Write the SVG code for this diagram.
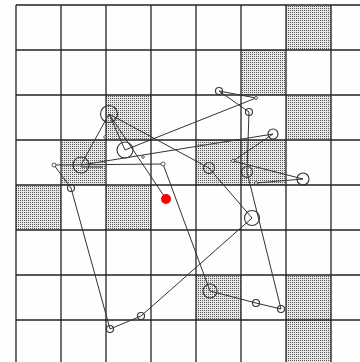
<svg xmlns="http://www.w3.org/2000/svg" width="360" height="362" viewBox="0 0 360 362">
<defs>
<pattern id="stip" width="2" height="2" patternUnits="userSpaceOnUse">
<rect width="2" height="2" fill="#e8e8e8"/>
<rect x="0" y="0" width="1" height="1" fill="#555"/>
</pattern>
</defs>
<style>
.cell{fill:url(#stip)}
.grid line{stroke:#222;stroke-width:1.3}
.edges line{stroke:#333;stroke-width:1}
.node circle{fill:none;stroke:#333;stroke-width:1.1}
.dot circle{fill:#fff;stroke:#333;stroke-width:0.8}
</style>
<rect width="360" height="362" fill="#fefefe"/>
<g id="shading">
<rect class="cell" x="286" y="5" width="45" height="45"/>
<rect class="cell" x="241" y="50" width="45" height="45"/>
<rect class="cell" x="106" y="95" width="45" height="45"/>
<rect class="cell" x="286" y="95" width="45" height="45"/>
<rect class="cell" x="61" y="140" width="45" height="45"/>
<rect class="cell" x="196" y="140" width="90" height="45"/>
<rect class="cell" x="16" y="185" width="45" height="45"/>
<rect class="cell" x="106" y="185" width="45" height="45"/>
<rect class="cell" x="196" y="275" width="45" height="45"/>
<rect class="cell" x="286" y="275" width="45" height="87"/>
</g>
<g class="grid">
<line x1="16" y1="5" x2="16" y2="362"/>
<line x1="61" y1="5" x2="61" y2="362"/>
<line x1="106" y1="5" x2="106" y2="362"/>
<line x1="151" y1="5" x2="151" y2="362"/>
<line x1="196" y1="5" x2="196" y2="362"/>
<line x1="241" y1="5" x2="241" y2="362"/>
<line x1="286" y1="5" x2="286" y2="362"/>
<line x1="331" y1="5" x2="331" y2="362"/>
<line x1="16" y1="5" x2="360" y2="5"/>
<line x1="16" y1="50" x2="360" y2="50"/>
<line x1="16" y1="95" x2="360" y2="95"/>
<line x1="16" y1="140" x2="360" y2="140"/>
<line x1="16" y1="185" x2="360" y2="185"/>
<line x1="16" y1="230" x2="360" y2="230"/>
<line x1="16" y1="275" x2="360" y2="275"/>
<line x1="16" y1="320" x2="360" y2="320"/>
</g>
<g id="connectors" class="edges">
<line x1="109" y1="114" x2="81" y2="165"/>
<line x1="109" y1="114" x2="125" y2="150"/>
<line x1="109" y1="114" x2="209" y2="168"/>
<line x1="109" y1="114" x2="166" y2="199"/>
<line x1="125" y1="150" x2="256" y2="98"/>
<line x1="219" y1="91" x2="256" y2="98"/>
<line x1="219" y1="91" x2="249" y2="112"/>
<line x1="81" y1="165" x2="273" y2="134"/>
<line x1="54" y1="165" x2="163" y2="164"/>
<line x1="81" y1="167" x2="103" y2="167"/>
<line x1="54" y1="165" x2="71" y2="188"/>
<line x1="71" y1="188" x2="110" y2="329"/>
<line x1="110" y1="329" x2="141" y2="316"/>
<line x1="141" y1="316" x2="252" y2="218"/>
<line x1="209" y1="168" x2="252" y2="218"/>
<line x1="249" y1="112" x2="247" y2="172"/>
<line x1="247" y1="172" x2="281" y2="309"/>
<line x1="281" y1="309" x2="256" y2="303"/>
<line x1="256" y1="303" x2="210" y2="291"/>
<line x1="163" y1="164" x2="210" y2="291"/>
<line x1="233" y1="161" x2="273" y2="134"/>
<line x1="233" y1="161" x2="303" y2="179"/>
<line x1="256" y1="183" x2="303" y2="179"/>
</g>
<g id="n1" class="node"><circle cx="109" cy="114" r="8.5"/></g>
<g id="n2" class="node"><circle cx="125" cy="150" r="8"/></g>
<g id="n3" class="node"><circle cx="81" cy="165" r="8"/></g>
<g id="n4" class="dot"><circle cx="54" cy="165" r="2"/></g>
<g id="n5" class="dot"><circle cx="163" cy="164" r="2"/></g>
<g id="n6" class="node"><circle cx="71" cy="188" r="3.5"/></g>
<g id="n7" class="node"><circle cx="110" cy="329" r="3.5"/></g>
<g id="n8" class="node"><circle cx="141" cy="316" r="3.5"/></g>
<g id="n9" class="node"><circle cx="210" cy="291" r="7"/></g>
<g id="n10" class="node"><circle cx="256" cy="303" r="3.5"/></g>
<g id="n11" class="node"><circle cx="281" cy="309" r="3.5"/></g>
<g id="n12" class="node"><circle cx="252" cy="218" r="7.5"/></g>
<g id="n13" class="node"><circle cx="219" cy="91" r="3.5"/></g>
<g id="n14" class="node"><circle cx="249" cy="112" r="3.5"/></g>
<g id="n15" class="node"><circle cx="273" cy="134" r="5"/></g>
<g id="n16" class="node"><circle cx="209" cy="168" r="5.5"/></g>
<g id="n17" class="node"><circle cx="247" cy="172" r="5.5"/></g>
<g id="n18" class="node"><circle cx="303" cy="179" r="6"/></g>
<g id="d1" class="dot"><circle cx="256" cy="98" r="1.5"/></g>
<g id="d2" class="dot"><circle cx="233" cy="161" r="1.5"/></g>
<g id="d3" class="dot"><circle cx="256" cy="183" r="1.5"/></g>
<g id="d4" class="dot"><circle cx="143" cy="157" r="1.3"/></g>
<g id="d5" class="dot"><circle cx="105" cy="137" r="1.3"/></g>
<g id="n19"><circle cx="166" cy="199" r="5" fill="#f00"/></g>
</svg>
